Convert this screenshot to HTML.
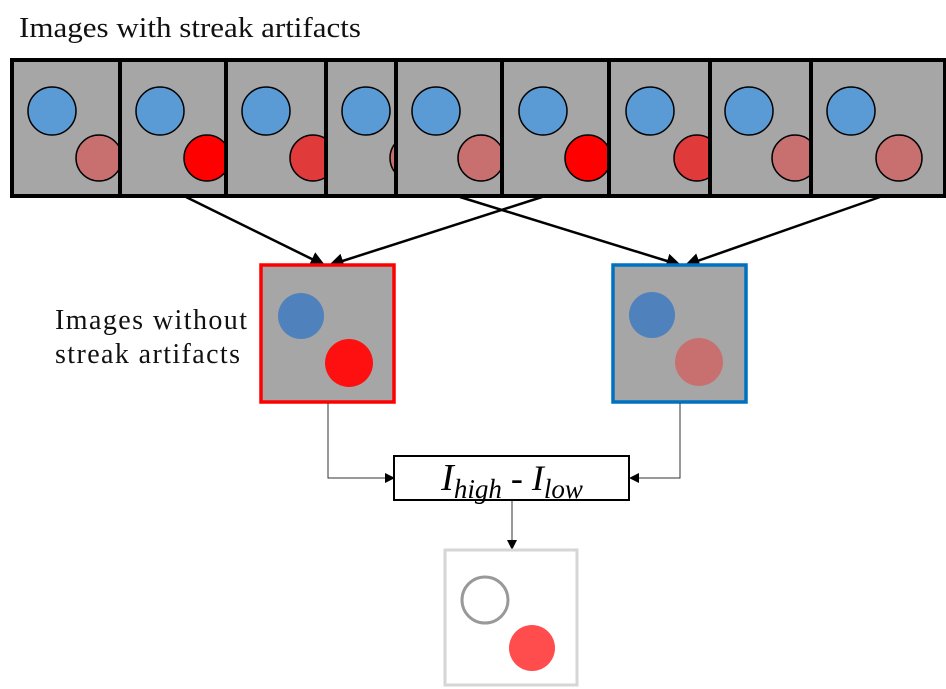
<!DOCTYPE html>
<html><head><style>body{margin:0;background:#fff}svg{display:block}</style></head><body>
<svg width="946" height="689" viewBox="0 0 946 689" xmlns="http://www.w3.org/2000/svg">
<defs>
<marker id="a" viewBox="0 0 10 10" refX="9" refY="5" markerWidth="6" markerHeight="6" orient="auto"><path d="M0,0L10,5L0,10z" fill="#000"/></marker>
<marker id="b" viewBox="0 0 10 10" refX="9" refY="5" markerWidth="10" markerHeight="10" orient="auto" markerUnits="userSpaceOnUse"><path d="M0,0L10,5L0,10z" fill="#000"/></marker>
<clipPath id="c1"><rect x="12" y="60" width="108" height="136"/></clipPath>
<clipPath id="c2"><rect x="120" y="60" width="106" height="136"/></clipPath>
<clipPath id="c3"><rect x="226" y="60" width="100" height="136"/></clipPath>
<clipPath id="c4"><rect x="326" y="60" width="70" height="136"/></clipPath>
<clipPath id="c5"><rect x="396" y="60" width="106" height="136"/></clipPath>
<clipPath id="c6"><rect x="502" y="60" width="107" height="136"/></clipPath>
<clipPath id="c7"><rect x="609" y="60" width="101" height="136"/></clipPath>
<clipPath id="c8"><rect x="710" y="60" width="101" height="136"/></clipPath>
<clipPath id="c9"><rect x="811" y="60" width="134" height="136"/></clipPath>
</defs>
<text x="19" y="37" font-family="Liberation Serif, serif" font-size="29" textLength="342" lengthAdjust="spacingAndGlyphs" fill="#111">Images with streak artifacts</text>
<rect x="12" y="60" width="933" height="136" fill="#a6a6a6"/>
<g stroke="#000" stroke-width="1.5">
<g clip-path="url(#c1)"><circle cx="52" cy="111" r="24" fill="#5b9bd5"/><circle cx="99" cy="158" r="23" fill="#c87070"/></g>
<g clip-path="url(#c2)"><circle cx="160" cy="111" r="24" fill="#5b9bd5"/><circle cx="207" cy="158" r="23" fill="#ff0000"/></g>
<g clip-path="url(#c3)"><circle cx="266" cy="111" r="24" fill="#5b9bd5"/><circle cx="313" cy="158" r="23" fill="#e03a3a"/></g>
<g clip-path="url(#c4)"><circle cx="366" cy="111" r="24" fill="#5b9bd5"/><circle cx="413" cy="158" r="23" fill="#c87070"/></g>
<g clip-path="url(#c5)"><circle cx="436" cy="111" r="24" fill="#5b9bd5"/><circle cx="481" cy="158" r="23" fill="#c87070"/></g>
<g clip-path="url(#c6)"><circle cx="543" cy="111" r="24" fill="#5b9bd5"/><circle cx="588" cy="158" r="23" fill="#ff0000"/></g>
<g clip-path="url(#c7)"><circle cx="650" cy="111" r="24" fill="#5b9bd5"/><circle cx="697" cy="158" r="23" fill="#e03a3a"/></g>
<g clip-path="url(#c8)"><circle cx="749" cy="111" r="24" fill="#5b9bd5"/><circle cx="795" cy="158" r="23" fill="#c87070"/></g>
<g clip-path="url(#c9)"><circle cx="851" cy="111" r="24" fill="#5b9bd5"/><circle cx="899" cy="158" r="23" fill="#c87070"/></g>
</g>
<g stroke="#000" stroke-width="4" fill="none">
<rect x="12" y="60" width="933" height="136"/>
<path d="M120 60V196M226 60V196M326 60V196M396 60V196M502 60V196M609 60V196M710 60V196M811 60V196"/>
</g>
<g stroke="#000" stroke-width="2.5" marker-end="url(#a)">
<line x1="186" y1="197" x2="324" y2="265"/>
<line x1="542" y1="197" x2="330" y2="265"/>
<line x1="460" y1="197" x2="680" y2="265"/>
<line x1="880" y1="197" x2="686" y2="265"/>
</g>
<rect x="261" y="265" width="133" height="137" fill="#a6a6a6" stroke="#ff0000" stroke-width="3.5"/>
<circle cx="301" cy="316" r="23" fill="#4f81bd"/><circle cx="349" cy="363" r="24" fill="#ff1010"/>
<rect x="613" y="265" width="133" height="137" fill="#a6a6a6" stroke="#0070c0" stroke-width="3.5"/>
<circle cx="652" cy="315" r="23" fill="#4f81bd"/><circle cx="699" cy="362" r="24" fill="#c87070"/>
<text font-family="Liberation Serif, serif" font-size="28" fill="#111" lengthAdjust="spacingAndGlyphs"><tspan x="55" y="329" textLength="192">Images without</tspan><tspan x="55" y="363" textLength="185">streak artifacts</tspan></text>
<g stroke="#333" stroke-width="1" fill="none" marker-end="url(#b)">
<path d="M328 403V478H394"/>
<path d="M680 403V478H630"/>
<path d="M512 500V549"/>
</g>
<rect x="394" y="456" width="235" height="44" fill="#fff" stroke="#000" stroke-width="2"/>
<text x="512" y="490" text-anchor="middle" font-family="Liberation Serif, serif" font-style="italic" fill="#000"><tspan font-size="38">I</tspan><tspan font-size="27" dy="8">high</tspan><tspan font-size="36" dy="-8"> - I</tspan><tspan font-size="27" dy="8">low</tspan></text>
<rect x="445" y="550" width="132" height="135" fill="#fff" stroke="#d6d6d6" stroke-width="3"/>
<circle cx="485" cy="600" r="23" fill="none" stroke="#999" stroke-width="3"/>
<circle cx="532" cy="648" r="23" fill="#ff4c4c"/>
</svg>
</body></html>
